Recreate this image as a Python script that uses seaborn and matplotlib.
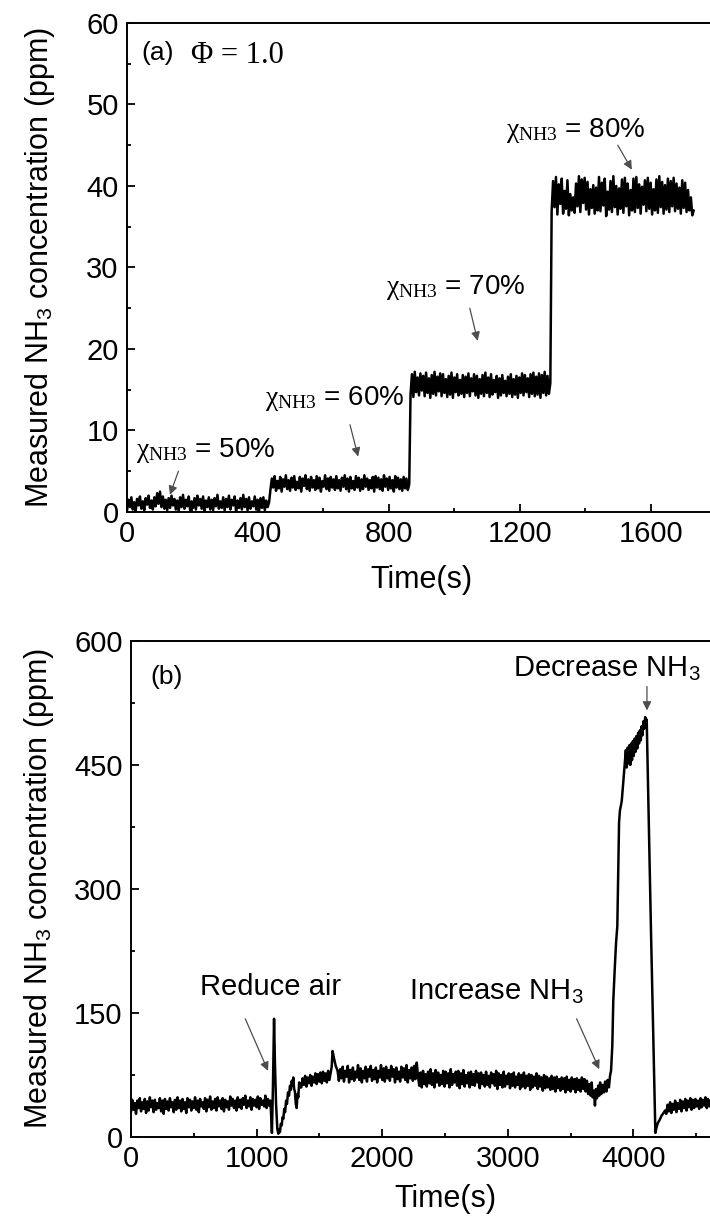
import numpy as np
import matplotlib
matplotlib.use("Agg")
import matplotlib.pyplot as plt
import seaborn as sns
from matplotlib.ticker import MultipleLocator, FixedLocator

# ---------------- data: panel (a) ----------------
a_seg_times = [(0, 434), (438, 862), (866, 1293), (1297, 1731)]
a_chi50 = [0.2,1.5,0.6,1.8,0.3,1.2,0.1,1.6,0.8,1.9,
           0.4,1.3,0.2,1.7,0.9,2.0,0.5,1.4,0.3,1.8,
           0.7,2.3,1.0,2.5,0.6,1.9,0.4,1.5,0.2,1.7,
           0.5,2.0,0.8,1.6,0.3,1.4,0.1,1.8,0.6,2.1,
           0.4,1.5,0.7,1.9,0.2,1.3,0.5,1.7,0.3,2.0,
           0.8,1.6,0.4,1.9,0.1,1.4,0.6,1.8,0.3,1.5,
           0.2,1.7,0.7,2.1,0.4,1.3,0.5,1.8,0.2,1.6,
           0.6,2.0,0.3,1.5,0.8,1.9,0.1,1.4,0.5,1.7,
           0.3,2.1,0.6,1.6,0.2,1.8,0.4,1.3,0.7,1.9,
           0.3,1.5,0.1,1.7,0.5,1.8,0.2,1.4,0.6,1.2]
a_chi60 = [2.7,4.1,3.0,4.4,2.6,3.8,2.9,4.3,2.5,4.0,
           3.1,4.5,2.8,3.9,2.6,4.2,3.0,4.4,2.7,3.7,
           2.9,4.3,2.5,4.1,3.2,4.5,2.8,4.0,2.6,4.3,
           3.0,3.9,2.7,4.4,2.9,4.2,2.5,3.8,3.1,4.5,
           2.8,4.1,2.6,4.3,3.0,4.0,2.7,4.4,2.9,3.9,
           2.6,4.2,3.1,4.5,2.8,4.1,2.5,4.3,2.9,3.8,
           2.7,4.4,3.0,4.2,2.6,4.0,2.8,4.5,3.1,4.1,
           2.7,3.9,2.9,4.3,2.5,4.4,3.0,4.2,2.8,4.0,
           2.6,4.5,3.1,4.1,2.7,4.3,2.9,3.9,2.5,4.4,
           3.0,4.2,2.8,4.0,2.6,4.3,2.9,4.1,2.7,3.4]
a_chi70 = [14.4,16.9,14.1,17.2,14.7,16.5,14.3,17.0,14.9,16.7,
           14.2,17.1,14.6,16.4,14.0,16.8,14.5,17.2,14.3,16.6,
           14.8,17.0,14.2,16.9,14.6,16.3,14.1,16.7,14.4,17.1,
           14.0,16.5,14.7,16.9,14.3,16.2,14.5,16.8,14.1,16.6,
           14.6,17.0,14.2,16.4,14.8,16.9,14.3,16.7,14.0,16.3,
           14.5,16.8,14.2,17.1,14.6,16.5,14.1,16.9,14.4,16.2,
           14.7,16.7,14.0,16.4,14.3,16.8,14.6,16.1,14.2,16.6,
           14.5,16.9,14.1,16.3,14.4,16.7,14.0,16.5,14.6,17.0,
           14.3,16.8,14.7,16.4,14.1,16.9,14.5,17.1,14.2,16.6,
           14.4,17.0,14.0,16.8,14.6,17.2,14.3,16.7,14.5,15.8]
a_chi80 = [36.9,40.6,37.4,41.1,36.5,40.2,37.8,40.9,36.6,39.4,
           37.2,40.7,36.4,39.0,37.0,38.6,36.7,40.3,37.5,41.2,
           36.8,40.8,37.9,41.0,37.1,40.5,36.5,39.6,37.3,40.1,
           36.6,39.8,37.0,41.1,36.9,40.4,37.6,40.9,36.3,39.3,
           37.1,40.6,36.8,41.2,37.4,40.0,36.5,39.7,37.2,40.8,
           36.7,41.0,37.5,40.3,36.4,39.5,37.0,40.9,36.8,41.1,
           37.3,40.2,36.6,39.9,37.7,40.7,36.9,41.0,37.2,40.4,
           36.5,39.6,37.0,40.8,36.7,41.2,37.4,40.5,36.6,40.1,
           37.1,40.9,36.8,40.6,37.5,41.0,36.9,40.3,37.2,39.8,
           36.6,40.7,37.3,40.4,36.8,39.5,37.0,38.6,36.4,37.0]
a_labels = ["50%", "60%", "70%", "80%"]
a_label_pos = [(27, 7.6), (421, 13.9), (790, 27.6), (1158, 46.8)]
a_arrow_from = [(157, 5.0), (681, 10.7), (1047, 25.0), (1499, 45.0)]
a_arrow_to = [(131, 2.1), (706, 6.8), (1071, 21.0), (1542, 42.0)]
a_xticks = [0, 400, 800, 1200, 1600]

# ---------------- data: panel (b) ----------------
b_base_span = (0, 1110)
b_base = [30,45,33,41,28,44,35,47,31,42,
          34,46,29,43,32,48,36,44,30,45,
          33,41,35,47,31,44,28,46,34,43,
          32,47,36,42,30,45,33,48,35,44,
          31,46,34,42,29,47,36,45,32,43,
          35,48,33,44,30,46,37,42,34,47,
          31,45,36,49,33,43,35,46,32,48,
          37,44,34,47,31,45,36,43,33,49,
          38,46,35,44,32,48,36,45,34,47,
          39,50,35,44,37,48,33,46,38,45,
          36,49,34,47,39,44,37,50,35,46,
          38,44]
b_airdrop_t = [1118, 1122, 1130, 1139, 1146, 1155, 1165, 1173, 1180, 1186,
               1193, 1200, 1207, 1213, 1220, 1227, 1235, 1242, 1250, 1258,
               1266, 1273, 1280, 1286, 1292, 1299, 1305, 1312, 1319, 1326,
               1332, 1339, 1346]
b_airdrop = [20, 5, 60, 143, 90, 40, 10, 4, 9, 6,
             16, 14, 24, 22, 34, 30, 44, 40, 54, 50,
             62, 57, 68, 62, 72, 58, 55, 40, 35, 52,
             48, 66, 60]
b_mid1_span = (1356, 1590)
b_mid1 = [60,71,63,74,61,72,65,75,62,73,66,77,64,76,67,78,65,79,68,77,66,80,69,78]
b_bump_t = [1598, 1605, 1615, 1630, 1645]
b_bump = [85, 104, 96, 86, 80]
b_mid2_span = (1655, 2285)
b_mid2 = [68,82,71,85,67,80,73,86,66,81,
          70,84,68,79,72,87,69,83,66,80,
          71,85,67,82,73,86,68,81,70,84,
          66,80,72,87,69,83,67,85,71,81,
          68,86,73,82,66,84,70,79,67,85,
          72,83,69,87,66,81,71,84,68,86,
          70,90,74]
b_mid3_span = (2295, 3600)
b_mid3 = [62,78,60,80,64,76,61,79,65,82,
          63,77,60,81,66,78,62,75,64,80,
          61,79,65,77,60,82,63,76,66,79,
          62,80,59,77,64,81,61,75,65,78,
          60,79,63,76,62,80,66,77,59,78,
          64,75,61,79,63,74,60,78,65,76,
          62,80,58,77,63,75,60,79,61,74,
          64,77,59,76,62,78,60,73,63,77,
          58,75,61,78,59,74,62,76,57,75,
          60,73,62,77,58,74,61,72,56,75,
          59,73,60,71,57,74,58,72,55,73,
          59,70,56,72,58,71,54,73,57,69,
          55,72,58,70,54,71,57,69,55,72,
          58]
b_peak_t = [3610, 3620, 3630, 3640, 3650, 3660, 3668, 3675, 3685, 3694,
            3702, 3710, 3720, 3728, 3735, 3745, 3755, 3765, 3775, 3785,
            3795, 3805, 3814, 3822, 3832, 3840, 3852, 3862, 3872, 3880,
            3886, 3893, 3907, 3920, 3933, 3940, 3947, 3954, 3961, 3968,
            3975, 3982, 3989, 3996, 4003, 4010, 4017, 4024, 4031, 4038,
            4045, 4052, 4059, 4066, 4073, 4080, 4087, 4094, 4100, 4106,
            4140, 4175, 4185, 4195, 4210, 4225, 4240, 4252]
b_peak = [70, 55, 68, 52, 64, 50, 66, 48, 56, 38,
          58, 47, 62, 50, 66, 52, 63, 54, 67, 55,
          69, 60, 74, 80, 110, 165, 205, 235, 255, 330,
          381, 395, 406, 430, 455, 468, 447, 471, 452, 474,
          450, 476, 456, 479, 461, 482, 466, 485, 470, 489,
          476, 492, 480, 497, 486, 503, 494, 508, 500, 505,
          250, 5, 12, 17, 21, 26, 29, 32]
b_tail_span = (4262, 4705)
b_tail = [28,39,31,42,29,40,33,44,30,41,
          34,45,31,43,35,46,32,44,36,47,
          33,45,35,46,37,44,34,47,36,45,
          38,48,35,46,37,44,39,47,36,45,
          38,48,37,46,39]
b_notes = ["Reduce air", "Increase NH$_{\\mathsf{3}}$", "Decrease NH$_{\\mathsf{3}}$"]
b_note_pos = [(549, 181), (2215, 176), (3042, 566)]
b_arrow_from = [(910, 143), (3548, 143), (4108, 545)]
b_arrow_to = [(1091, 80), (3728, 82), (4108, 516)]
b_xticks = [0, 1000, 2000, 3000, 4000]

# ---------------- assemble series ----------------
a_t = np.concatenate([np.linspace(s, e, len(v)) for (s, e), v in
                      zip(a_seg_times, [a_chi50, a_chi60, a_chi70, a_chi80])])
a_y = np.concatenate([a_chi50, a_chi60, a_chi70, a_chi80])

b_t = np.concatenate([
    np.linspace(*b_base_span, len(b_base)), b_airdrop_t,
    np.linspace(*b_mid1_span, len(b_mid1)), b_bump_t,
    np.linspace(*b_mid2_span, len(b_mid2)),
    np.linspace(*b_mid3_span, len(b_mid3)), b_peak_t,
    np.linspace(*b_tail_span, len(b_tail))])
b_y = np.concatenate([b_base, b_airdrop, b_mid1, b_bump, b_mid2, b_mid3, b_peak, b_tail])

# ---------------- style ----------------
sns.set_theme(style="ticks")
plt.rcParams.update({
    "font.family": ["Liberation Sans", "DejaVu Sans"],
    "mathtext.fontset": "custom",
    "mathtext.rm": "Liberation Serif",
    "mathtext.it": "Liberation Serif:italic",
    "mathtext.sf": "Liberation Sans",
    "axes.linewidth": 1.4,
    "axes.edgecolor": "black",
    "xtick.direction": "in",
    "ytick.direction": "in",
    "xtick.color": "black",
    "ytick.color": "black",
    "xtick.labelsize": 21,
    "ytick.labelsize": 21,
    "xtick.major.size": 5.5,
    "ytick.major.size": 5.5,
    "xtick.minor.size": 3,
    "ytick.minor.size": 3,
    "xtick.major.width": 1.3,
    "ytick.major.width": 1.3,
    "xtick.minor.width": 1.3,
    "ytick.minor.width": 1.3,
    "axes.labelsize": 22,
    "text.color": "black",
    "axes.labelcolor": "black",
})

fig = plt.figure(figsize=(7.1, 12.21), dpi=100)
ax1 = fig.add_axes([0.1789, 0.5807, 0.830, 0.4005])
ax2 = fig.add_axes([0.1845, 0.0688, 0.8845, 0.4062])

arrow_kw = dict(arrowstyle="-|>", color="0.3", lw=0.9, mutation_scale=13,
                shrinkA=0, shrinkB=0)

# ---- panel (a)
sns.lineplot(x=a_t, y=a_y, ax=ax1, color="black", linewidth=1.8,
             estimator=None, sort=False)
ax1.set_xlim(0, 1800)
ax1.set_ylim(0, 60)
ax1.xaxis.set_major_locator(FixedLocator(a_xticks))
ax1.xaxis.set_minor_locator(MultipleLocator(200))
ax1.yaxis.set_major_locator(MultipleLocator(10))
ax1.yaxis.set_minor_locator(MultipleLocator(5))
ax1.set_xlabel("Time(s)", labelpad=12)
ax1.set_ylabel("Measured NH$_{\\mathsf{3}}$ concentration (ppm)", labelpad=21)
ax1.text(44, 56.3, "(a)", fontsize=19, ha="left", va="center")
ax1.text(195, 56.0, "\u03a6 = 1.0", fontsize=22, ha="left", va="center",
         family=["Liberation Serif", "DejaVu Serif"])
for lab, pos, p0, p1 in zip(a_labels, a_label_pos, a_arrow_from, a_arrow_to):
    ax1.text(pos[0], pos[1], "$\\mathrm{\\chi}_{\\mathrm{NH3}}$ = " + lab,
             fontsize=20, ha="left", va="center")
    ax1.annotate("", xy=p1, xytext=p0, arrowprops=arrow_kw)

# ---- panel (b)
sns.lineplot(x=b_t, y=b_y, ax=ax2, color="black", linewidth=1.8,
             estimator=None, sort=False)
ax2.set_xlim(0, 5000)
ax2.set_ylim(0, 600)
ax2.xaxis.set_major_locator(FixedLocator(b_xticks))
ax2.xaxis.set_minor_locator(MultipleLocator(500))
ax2.yaxis.set_major_locator(MultipleLocator(150))
ax2.yaxis.set_minor_locator(MultipleLocator(75))
ax2.set_xlabel("Time(s)", labelpad=8)
ax2.set_ylabel("Measured NH$_{\\mathsf{3}}$ concentration (ppm)", labelpad=13)
ax2.text(152, 556, "(b)", fontsize=19, ha="left", va="center")
for lab, pos, p0, p1 in zip(b_notes, b_note_pos, b_arrow_from, b_arrow_to):
    ax2.text(pos[0], pos[1], lab, fontsize=21, ha="left", va="center")
    ax2.annotate("", xy=p1, xytext=p0, arrowprops=arrow_kw)

for ax in (ax1, ax2):
    ax.tick_params(which="both", top=False, right=False, pad=6)
    for s in ax.spines.values():
        s.set_visible(True)
        s.set_color("black")

fig.savefig("out.png", dpi=100, facecolor="white")
